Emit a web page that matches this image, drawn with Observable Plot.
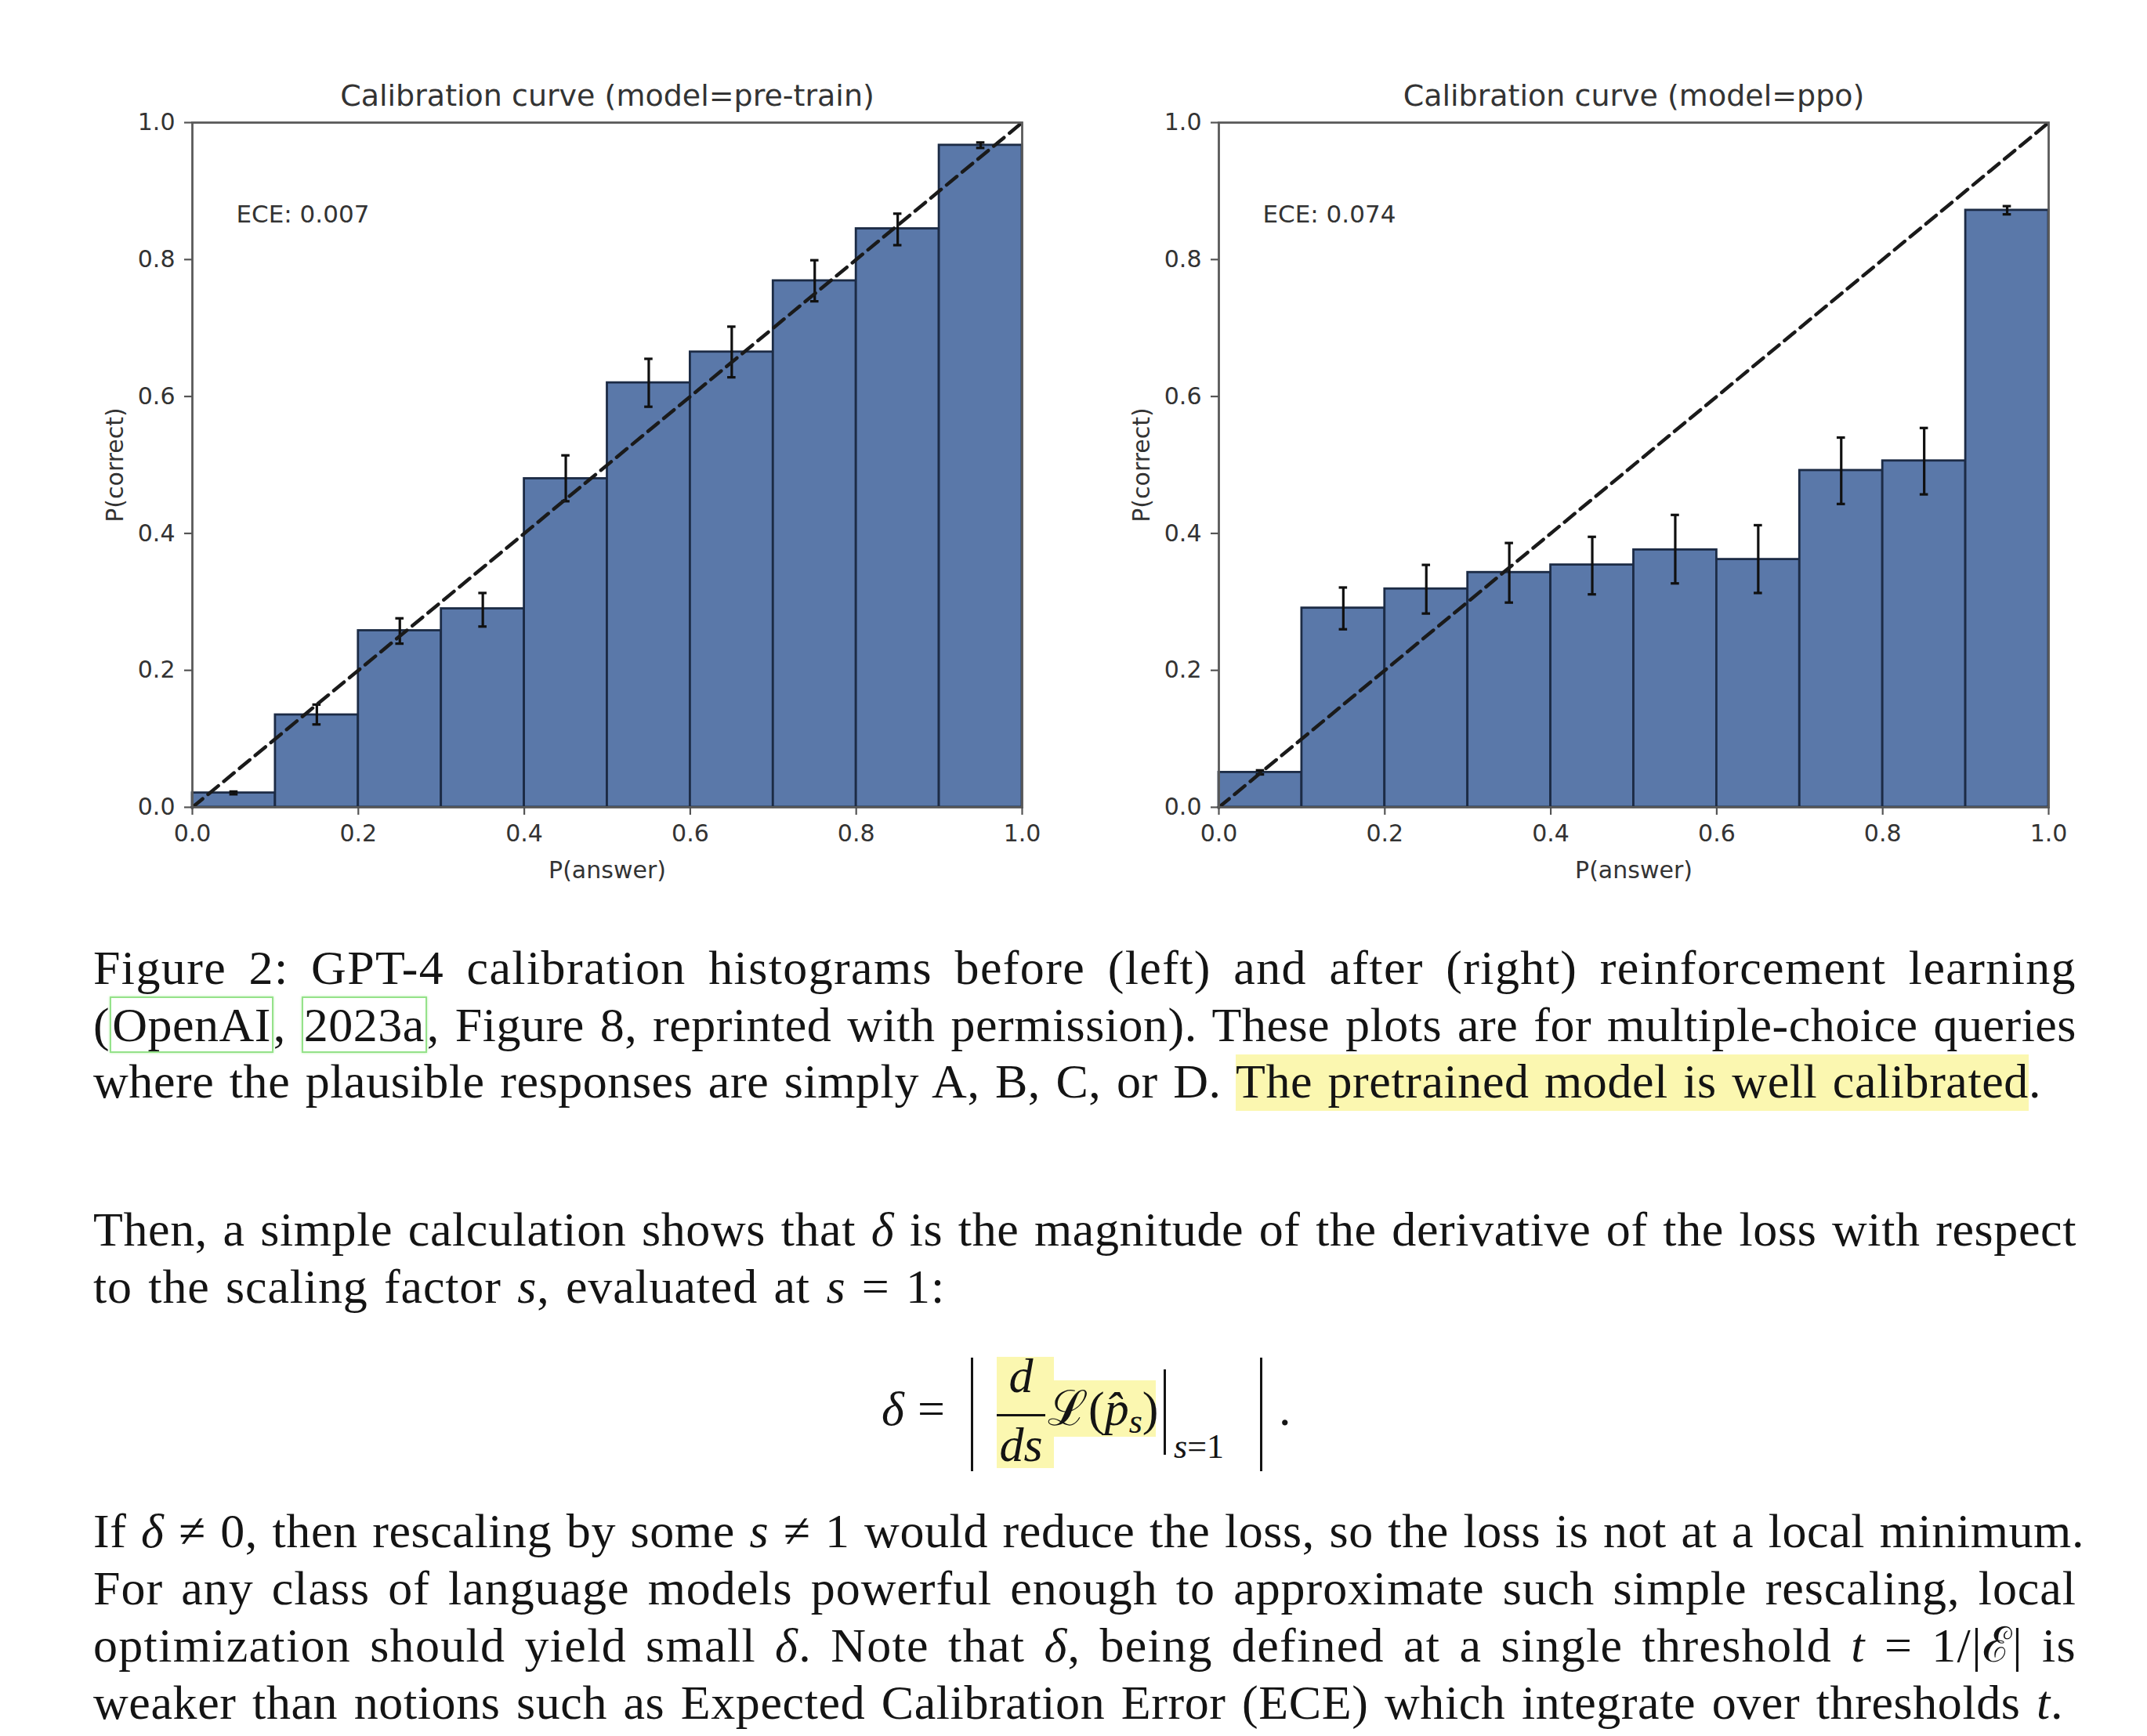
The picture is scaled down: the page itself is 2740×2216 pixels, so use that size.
<!DOCTYPE html>
<html>
<head>
<meta charset="utf-8">
<script src="https://cdn.jsdelivr.net/npm/d3@7"></script>
<script src="https://cdn.jsdelivr.net/npm/@observablehq/plot@0.6"></script>
<style>
  html, body { margin: 0; padding: 0; background: #fff; }
  #page { position: relative; width: 2740px; height: 2216px; overflow: hidden; background: #fff; }
  .panel { position: absolute; top: 0; }
  .ln { position: absolute; left: 119px; white-space: nowrap; font-family: "Liberation Serif", serif; font-size: 62px; line-height: 62px; color: #141414; }
  .cite { border: 2px solid #95e28a; box-shadow: 0 0 3px #b8f0ad; padding: 0 1px; }
  .hl { background: #fbf7b0; padding-bottom: 4px; }
  .eq { position: absolute; white-space: nowrap; font-family: "Liberation Serif", serif; color: #141414; }
  .bar { position: absolute; background: #141414; }
  .hlbox { position: absolute; background: #fbf7b0; }
  .cal { font-family: "DejaVu Serif", serif; font-style: normal; }
</style>
</head>
<body>
<div id="page"></div>
<script>
// ---------------- data ----------------
const binLo = [0.0, 0.1, 0.2, 0.3, 0.4, 0.5, 0.6, 0.7, 0.8, 0.9];
const binHi = [0.1, 0.2, 0.3, 0.4, 0.5, 0.6, 0.7, 0.8, 0.9, 1.0];

const preTrainAcc = [0.021, 0.135, 0.258, 0.290, 0.480, 0.620, 0.665, 0.769, 0.845, 0.967];
const preTrainLo  = [0.019, 0.121, 0.239, 0.264, 0.447, 0.585, 0.628, 0.739, 0.821, 0.963];
const preTrainHi  = [0.023, 0.150, 0.276, 0.313, 0.514, 0.655, 0.702, 0.799, 0.867, 0.971];

const ppoAcc = [0.051, 0.291, 0.319, 0.343, 0.354, 0.376, 0.362, 0.492, 0.506, 0.872];
const ppoLo  = [0.048, 0.260, 0.283, 0.299, 0.311, 0.327, 0.313, 0.443, 0.457, 0.866];
const ppoHi  = [0.054, 0.321, 0.354, 0.386, 0.395, 0.427, 0.412, 0.540, 0.554, 0.878];

const diagonal = [0, 1];                 // perfect-calibration reference y = x
const xTicks = [0, 0.2, 0.4, 0.6, 0.8, 1.0];
const yTicks = [0, 0.2, 0.4, 0.6, 0.8, 1.0];

const titles = ["Calibration curve (model=pre-train)", "Calibration curve (model=ppo)"];
const eceLabels = ["ECE: 0.007", "ECE: 0.074"];
const xLabel = "P(answer)";
const yLabel = "P(correct)";

// ---------------- chart ----------------
const capHalf = 0.005;
function panel(title, ece, acc, lo, hi, left, marginLeft, marginRight) {
  const rows = binLo.map((b, i) => ({x1: b, x2: binHi[i], mid: (b + binHi[i]) / 2, acc: acc[i], lo: lo[i], hi: hi[i]}));
  const svg = Plot.plot({
    width: 1370,
    height: 1160,
    marginTop: 156,
    marginBottom: 130,
    marginLeft,
    marginRight,
    style: {fontFamily: "DejaVu Sans, sans-serif", fontSize: "30px", color: "#333", background: "transparent", overflow: "visible"},
    x: {domain: [0, 1]},
    y: {domain: [0, 1]},
    marks: [
      Plot.rect(rows, {x1: "x1", x2: "x2", y1: 0, y2: "acc", fill: "#5a78a9", stroke: "#1c2b45", strokeWidth: 2.8}),
      Plot.ruleX(rows, {x: "mid", y1: "lo", y2: "hi", stroke: "#101010", strokeWidth: 3.2}),
      Plot.ruleY(rows, {y: "lo", x1: d => d.mid - capHalf, x2: d => d.mid + capHalf, stroke: "#101010", strokeWidth: 3.2}),
      Plot.ruleY(rows, {y: "hi", x1: d => d.mid - capHalf, x2: d => d.mid + capHalf, stroke: "#101010", strokeWidth: 3.2}),
      Plot.line(diagonal, {x: d => d, y: d => d, stroke: "#1a1a1a", strokeWidth: 4.5, strokeDasharray: "17,9"}),
      Plot.frame({stroke: "#5a5a5a", strokeWidth: 2.8}),
      Plot.axisX({ticks: xTicks, tickFormat: d3.format(".1f"), tickSize: 10, tickPadding: 12, stroke: "#555", strokeWidth: 2.2,
                  label: xLabel, labelAnchor: "center", labelArrow: "none", labelOffset: 90, fill: "#333"}),
      Plot.axisY({ticks: yTicks, tickFormat: d3.format(".1f"), tickSize: 10, tickPadding: 12, stroke: "#555", strokeWidth: 2.2,
                  label: yLabel, labelAnchor: "center", labelArrow: "none", labelOffset: 110, fill: "#333"}),
      Plot.text([title], {frameAnchor: "top", dy: -34, fontSize: 38, lineAnchor: "middle", fill: "#333"}),
      Plot.text([ece], {frameAnchor: "top-left", dx: 56, dy: 118, textAnchor: "start", lineAnchor: "middle", fontSize: 31, fill: "#333"})
    ]
  });
  const wrap = document.createElement("div");
  wrap.className = "panel";
  wrap.style.left = left + "px";
  wrap.appendChild(svg);
  document.getElementById("page").appendChild(wrap);
}
panel(titles[0], eceLabels[0], preTrainAcc, preTrainLo, preTrainHi, 0, 245, 66);
panel(titles[1], eceLabels[1], ppoAcc, ppoLo, ppoHi, 1370, 185, 126);

// ---------------- text ----------------
const F = 62, ASC = 0.8375;
const page = document.getElementById("page");
const textLines = [
  {b: 1256, w: 2531, h: 'Figure 2: GPT-4 calibration histograms before (left) and after (right) reinforcement learning'},
  {b: 1329, w: 2531, h: '(<span class="cite">OpenAI</span>, <span class="cite">2023a</span>, Figure 8, reprinted with permission). These plots are for multiple-choice queries'},
  {b: 1401, w: 2486, h: 'where the plausible responses are simply A, B, C, or D. <span class="hl">The pretrained model is well calibrated</span>.'},
  {b: 1590, w: 2531, h: 'Then, a simple calculation shows that <i>δ</i> is the magnitude of the derivative of the loss with respect'},
  {b: 1663, w: 1087, h: 'to the scaling factor <i>s</i>, evaluated at <i>s</i> = 1:'},
  {b: 1975, w: 2541, h: 'If <i>δ</i> ≠ 0, then rescaling by some <i>s</i> ≠ 1 would reduce the loss, so the loss is not at a local minimum.'},
  {b: 2048, w: 2531, h: 'For any class of language models powerful enough to approximate such simple rescaling, local'},
  {b: 2121, w: 2531, h: 'optimization should yield small <i>δ</i>. Note that <i>δ</i>, being defined at a single threshold <i>t</i> = 1/|<span class="cal">ℰ</span>| is'},
  {b: 2194, w: 2514, h: 'weaker than notions such as Expected Calibration Error (ECE) which integrate over thresholds <i>t</i>.'}
];
for (const L of textLines) {
  const d = document.createElement("div");
  d.className = "ln";
  d.style.top = (L.b - ASC * F) + "px";
  d.innerHTML = L.h;
  page.appendChild(d);
  const nat = d.getBoundingClientRect().width;
  const txt = d.textContent;
  const nSp = (txt.match(/ /g) || []).length;
  const nCh = txt.length;
  const extra = L.w - nat;
  const ls = Math.max(-1, Math.min(2.5, extra * 0.5 / nCh));
  d.style.letterSpacing = ls + "px";
  const nat2 = d.getBoundingClientRect().width;
  d.style.wordSpacing = ((L.w - nat2) / Math.max(1, nSp)) + "px";
}

// ---------------- equation ----------------
function box(cls, x, y, w, h) {
  const e = document.createElement("div");
  e.className = cls;
  Object.assign(e.style, {left: x + "px", top: y + "px", width: w + "px", height: h + "px"});
  page.appendChild(e);
}
function put(html, x, baseline, size, center) {
  const e = document.createElement("div");
  e.className = "eq";
  e.style.fontSize = size + "px";
  e.style.lineHeight = size + "px";
  e.style.top = (baseline - ASC * size) + "px";
  e.style.left = x + "px";
  if (center) e.style.transform = "translateX(-50%)";
  e.innerHTML = html;
  page.appendChild(e);
}
const E = -14;  // vertical shift of the display equation
box("hlbox", 1272, 1732, 73, 142);
box("hlbox", 1345, 1762, 130, 72);
put('<i>δ</i>', 1125, 1833 + E, 62);
put('=', 1171, 1833 + E, 62);
box("bar", 1239, 1747 + E, 3, 145);
put('<i>d</i>', 1303, 1791 + E, 62, true);
box("bar", 1272, 1819 + E, 62, 2.5);
put('<i>ds</i>', 1303, 1879 + E, 62, true);
put('<span class="cal">ℒ</span>(<i>p&#770;</i><span style="font-size:44px;position:relative;top:10px"><i>s</i></span>)', 1337, 1833 + E, 62);
box("bar", 1485, 1762 + E, 2.5, 109);
put('<i>s</i>=1', 1498, 1876 + E, 44);
box("bar", 1608, 1747 + E, 3, 145);
put('.', 1632, 1833 + E, 62);
</script>
</body>
</html>
